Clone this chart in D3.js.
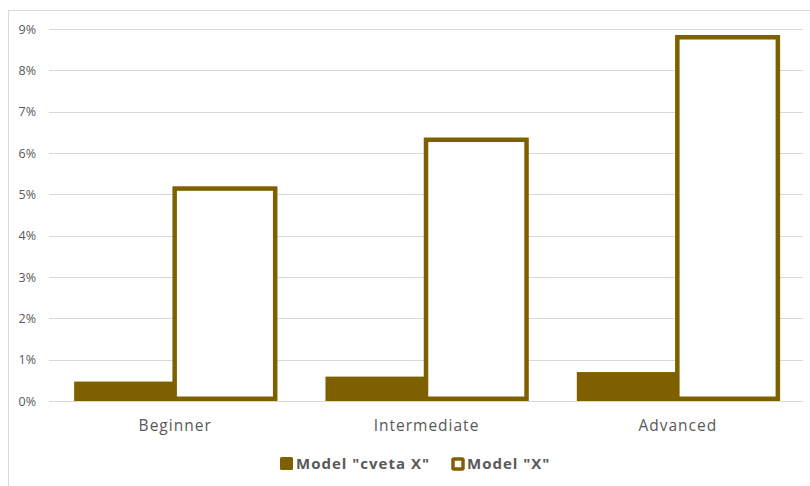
<!DOCTYPE html>
<html>
<head>
<meta charset="utf-8">
<script src="https://cdn.jsdelivr.net/npm/d3@7"></script>
<style>
  html, body { margin: 0; padding: 0; background: #fff; }
  svg { display: block; }
</style>
</head>
<body>
<svg id="chart" width="810" height="486"></svg>
<script>
const categories = ["Beginner", "Intermediate", "Advanced"];
const seriesNames = ['Model "cveta X"', 'Model "X"'];
const cvetaValues = [0.0047, 0.0059, 0.0070];
const xValues = [0.0514, 0.0632, 0.0880];
const yTicks = [0, 0.01, 0.02, 0.03, 0.04, 0.05, 0.06, 0.07, 0.08, 0.09];

const W = 810, H = 486;
const brown = "#7F6000";
const textColor = "#595959";
const gridColor = "#D9D9D9";
const font = "'Open Sans', Lato, 'Liberation Sans', sans-serif";

const svg = d3.select("#chart");

// outer chart border
svg.append("rect")
  .attr("x", 8.5).attr("y", 10.5)
  .attr("width", W).attr("height", H)
  .attr("fill", "none").attr("stroke", gridColor).attr("stroke-width", 1);

const plot = { left: 49, right: 803, top: 29, bottom: 401 };

const x0 = d3.scaleBand().domain(categories)
  .range([plot.left, plot.right]).paddingInner(0.2).paddingOuter(0.1);
const x1 = d3.scaleBand().domain([0, 1]).range([0, x0.bandwidth()]).padding(0);
const y = d3.scaleLinear().domain([0, 0.09]).range([plot.bottom, plot.top]);

// gridlines
svg.append("g").selectAll("line").data(yTicks.filter(d => d > 0)).join("line")
  .attr("x1", plot.left).attr("x2", plot.right)
  .attr("y1", d => Math.round(y(d)) + 0.5).attr("y2", d => Math.round(y(d)) + 0.5)
  .attr("stroke", gridColor).attr("stroke-width", 1);

// y tick labels
const yAxis = d3.axisLeft(y).tickValues(yTicks).tickFormat(d3.format(".0%")).tickSize(0).tickPadding(13);
const yg = svg.append("g").attr("transform", `translate(${plot.left},0)`).call(yAxis);
yg.select(".domain").remove();
yg.selectAll("text").attr("fill", textColor).style("font-family", font).style("font-size", "12.5px");

// filled bars
svg.append("g").selectAll("rect").data(categories).join("rect")
  .attr("x", (d, i) => x0(d) + x1(0))
  .attr("y", (d, i) => y(cvetaValues[i]))
  .attr("width", x1.bandwidth())
  .attr("height", (d, i) => y(0) - y(cvetaValues[i]))
  .attr("fill", brown);

// outline bars (stroke centred on bar edges)
const sw = 4.5;
svg.append("g").selectAll("rect").data(categories).join("rect")
  .attr("x", (d, i) => x0(d) + x1(1))
  .attr("y", (d, i) => y(xValues[i]))
  .attr("width", x1.bandwidth())
  .attr("height", (d, i) => y(0) - y(xValues[i]) - sw / 2)
  .attr("fill", "#fff")
  .attr("stroke", brown).attr("stroke-width", sw);

// baseline
svg.append("line")
  .attr("x1", plot.left).attr("x2", plot.right)
  .attr("y1", plot.bottom + 0.5).attr("y2", plot.bottom + 0.5)
  .attr("stroke", gridColor).attr("stroke-width", 1.2);

// category axis labels
const xAxis = d3.axisBottom(x0).tickSize(0).tickPadding(19);
const xg = svg.append("g").attr("transform", `translate(0,${plot.bottom})`).call(xAxis);
xg.select(".domain").remove();
xg.selectAll("text").attr("fill", textColor).style("font-family", font).style("font-size", "15.5px")
  .style("letter-spacing", "1px").attr("dx", "0.5px");

// legend
const legend = svg.append("g");
const legendItems = [
  { name: seriesNames[0], x: 280, filled: true },
  { name: seriesNames[1], x: 451, filled: false }
];
legendItems.forEach(it => {
  if (it.filled) {
    legend.append("rect").attr("x", it.x).attr("y", 457).attr("width", 13).attr("height", 13)
      .attr("rx", 1.5).attr("fill", brown);
  } else {
    legend.append("rect").attr("x", it.x + 2).attr("y", 459).attr("width", 10).attr("height", 10)
      .attr("rx", 1).attr("fill", "#fff").attr("stroke", brown).attr("stroke-width", 3.5);
  }
  legend.append("text").attr("x", it.x + 16).attr("y", 469)
    .attr("fill", textColor).style("font-family", font).style("font-size", "15px")
    .style("letter-spacing", "1px")
    .style("font-weight", "bold").text(it.name);
});
</script>
</body>
</html>
